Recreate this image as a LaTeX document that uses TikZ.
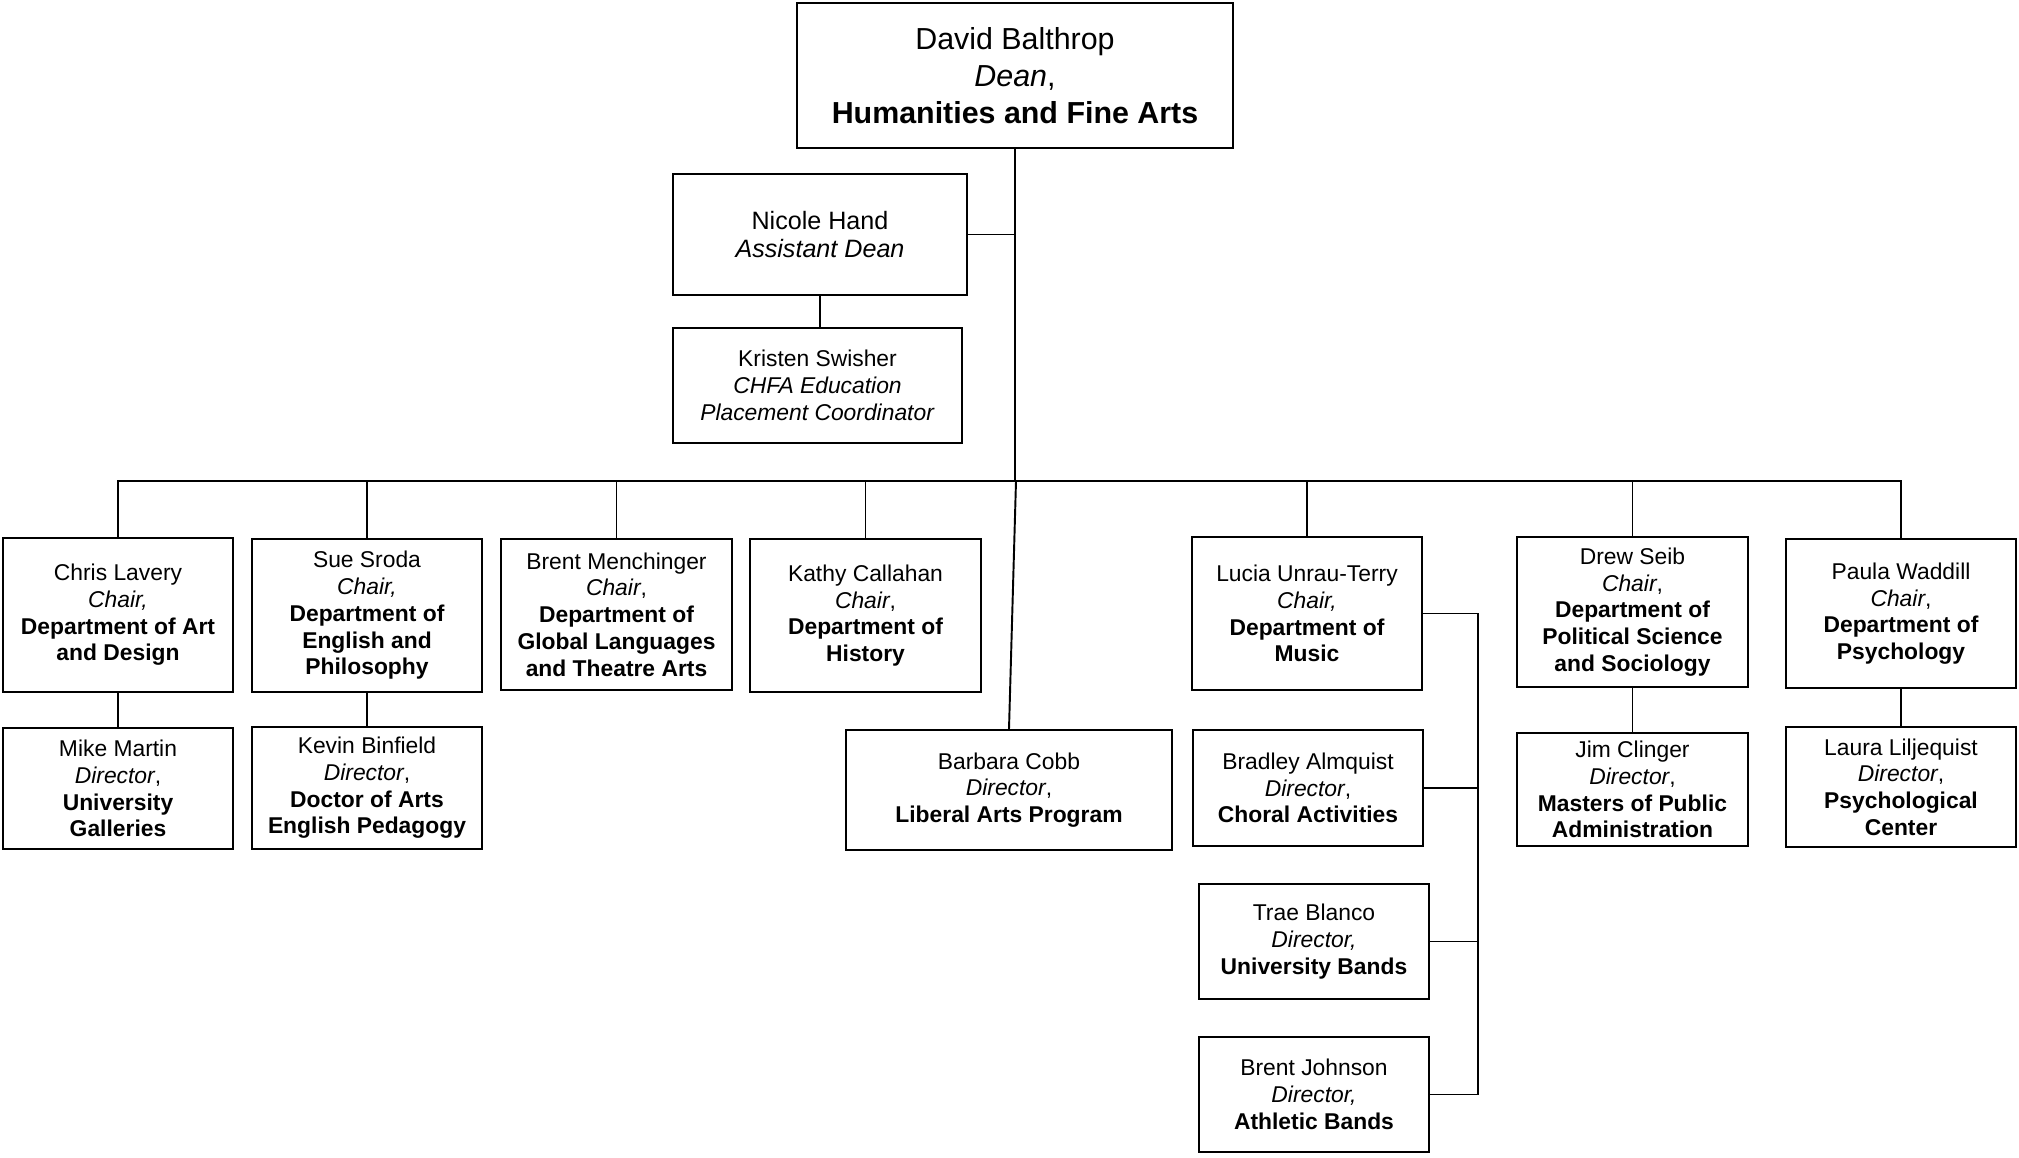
\documentclass[tikz,border=0pt]{standalone}
\usepackage{fontspec}
\setmainfont{Liberation Sans}
\usepackage{tikz}
\usetikzlibrary{positioning,calc}
\tikzstyle{box} = [rectangle, draw=black, line width=1.1pt, align=center, inner sep=0pt, minimum width=4.6cm, font=\fontsize{13}{15.2}\selectfont]
\tikzstyle{conn} = [line width=1.1pt]
\tikzstyle{trunk} = [line width=1.6pt]

\begin{document}
\begin{tikzpicture}[x=0.02cm, y=-0.02cm]
\useasboundingbox (0,0) rectangle (2019,1158);

% dean and office
\node[box, minimum width=8.72cm, minimum height=2.9cm, font=\fontsize{17.3}{20.9}\selectfont] (dean) at (1015,75.5) {David Balthrop\\ \textit{Dean},\\ \textbf{Humanities and Fine Arts}};
\node[box, minimum width=5.88cm, minimum height=2.42cm, font=\fontsize{14.3}{16}\selectfont] (hand) at (820,234.5) {Nicole Hand\\ \textit{Assistant Dean}};
\node[box, minimum width=5.78cm, minimum height=2.3cm] (swisher) at (817.5,385.5) {Kristen Swisher\\ \textit{CHFA Education}\\ \textit{Placement Coordinator}};

% chairs
\node[box, minimum height=3.08cm] (art) at (118,615) {Chris Lavery\\ \textit{Chair,}\\ \textbf{Department of Art}\\ \textbf{and Design}};
\node[box, minimum height=3.06cm] (english) at (367,615.5) {Sue Sroda\\ \textit{Chair,}\\ \textbf{Department of}\\ \textbf{English and}\\ \textbf{Philosophy}};
\node[box, minimum width=4.62cm, minimum height=3.02cm] (languages) at (616.5,614.5) {Brent Menchinger\\ \textit{Chair},\\ \textbf{Department of}\\ \textbf{Global Languages}\\ \textbf{and Theatre Arts}};
\node[box, minimum width=4.62cm, minimum height=3.06cm] (history) at (865.5,615.5) {Kathy Callahan\\ \textit{Chair},\\ \textbf{Department of}\\ \textbf{History}};
\node[box, minimum height=3.06cm] (music) at (1307,613.5) {Lucia Unrau-Terry\\ \textit{Chair,}\\ \textbf{Department of}\\ \textbf{Music}};
\node[box, minimum width=4.62cm, minimum height=3.0cm] (polisci) at (1632.5,612) {Drew Seib\\ \textit{Chair},\\ \textbf{Department of}\\ \textbf{Political Science}\\ \textbf{and Sociology}};
\node[box, minimum height=2.98cm] (psych) at (1901,613.5) {Paula Waddill\\ \textit{Chair},\\ \textbf{Department of}\\ \textbf{Psychology}};

% directors
\node[box, minimum height=2.42cm] (galleries) at (118,788.5) {Mike Martin\\ \textit{Director},\\ \textbf{University}\\ \textbf{Galleries}};
\node[box, minimum height=2.44cm] (pedagogy) at (367,788) {Kevin Binfield\\ \textit{Director},\\ \textbf{Doctor of Arts}\\ \textbf{English Pedagogy}};
\node[box, minimum width=6.52cm, minimum height=2.4cm] (liberal) at (1009,790) {Barbara Cobb\\ \textit{Director},\\ \textbf{Liberal Arts Program}};
\node[box, minimum height=2.32cm] (choral) at (1308,788) {Bradley Almquist\\ \textit{Director},\\ \textbf{Choral Activities}};
\node[box, minimum height=2.3cm] (bands) at (1314,941.5) {Trae Blanco\\ \textit{Director,}\\ \textbf{University Bands}};
\node[box, minimum height=2.3cm] (athletic) at (1314,1094.5) {Brent Johnson\\ \textit{Director,}\\ \textbf{Athletic Bands}};
\node[box, minimum width=4.62cm, minimum height=2.26cm] (mpa) at (1632.5,789.5) {Jim Clinger\\ \textit{Director},\\ \textbf{Masters of Public}\\ \textbf{Administration}};
\node[box, minimum height=2.4cm] (center) at (1901,787) {Laura Liljequist\\ \textit{Director},\\ \textbf{Psychological}\\ \textbf{Center}};

% connectors
\coordinate (bus) at (1016,481);
\coordinate (mus) at (1478,0);
\draw[trunk] (dean.south) -- (dean.south |- bus);
\draw[conn] (hand.east) -- (hand.east -| dean.south);
\draw[conn] (hand.south) -- (hand.south |- swisher.north);
\draw[conn] (art.north) |- (psych.north |- bus) -- (psych.north);
\foreach \n in {english,languages,history,music,polisci}
  \draw[conn] (\n.north) -- (\n.north |- bus);
\draw[conn] (bus) -- (liberal.north);
\draw[conn] (art.south) -- (galleries.north);
\draw[conn] (english.south) -- (pedagogy.north);
\draw[conn] (polisci.south) -- (mpa.north);
\draw[conn] (psych.south) -- (center.north);
\draw[conn] (music.east) -- (music.east -| mus) -- (athletic.east -| mus) -- (athletic.east);
\draw[conn] (choral.east) -- (choral.east -| mus);
\draw[conn] (bands.east) -- (bands.east -| mus);
\end{tikzpicture}
\end{document}
